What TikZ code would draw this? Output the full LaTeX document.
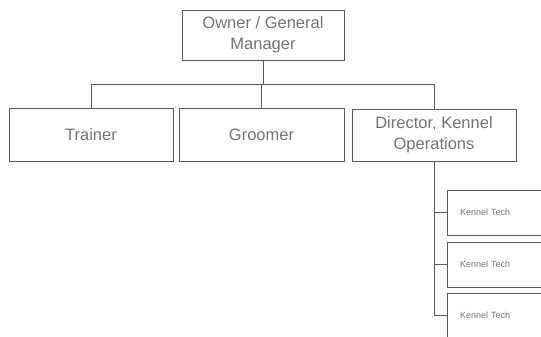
\documentclass[tikz,border=0pt]{standalone}
\usepackage{fontspec}
\setmainfont{Liberation Sans}
\definecolor{txt}{HTML}{747474}
\definecolor{ln}{HTML}{5A5A5A}
\begin{document}
\begin{tikzpicture}[x=1pt,y=-1pt,
  box/.style={draw=ln, line width=0.9pt, rectangle, inner sep=0pt, text=txt,
    font=\fontsize{16.5}{21}\selectfont, align=center},
  kbox/.style={draw=ln, line width=0.9pt, rectangle, inner sep=0pt, text=txt,
    font=\fontsize{9}{10}\selectfont, minimum width=98pt, minimum height=45pt,
    text width=72pt, align=left},
  conn/.style={draw=ln, line width=0.9pt}]
\clip (0,0) rectangle (541,337);
\fill[white] (0,0) rectangle (541,337);
\node[box, minimum width=162pt, minimum height=50pt] (owner) at (263,35) {Owner / General\\Manager};
\node[box, minimum width=164pt, minimum height=53pt] (trainer) at (91,134.5) {Trainer};
\node[box, minimum width=165pt, minimum height=53pt] (groomer) at (261.5,134.5) {Groomer};
\node[box, minimum width=164pt, minimum height=52pt] (director) at (434,135) {Director, Kennel\\Operations};
\coordinate (bar) at (0,84);
\node[kbox] (k1) at (496,212.5) {Kennel Tech};
\node[kbox] (k2) at (496,264.5) {Kennel Tech};
\node[kbox] (k3) at (496,315.5) {Kennel Tech};
\draw[conn] (owner.south) -- (owner.south |- bar);
\draw[conn] (trainer.north) -- (trainer.north |- bar) -| (director.north);
\draw[conn] (groomer.north) -- (groomer.north |- bar);
\draw[conn] (director.south) |- (k3.west);
\draw[conn] (director.south |- k1.west) -- (k1.west);
\draw[conn] (director.south |- k2.west) -- (k2.west);
\end{tikzpicture}
\end{document}
